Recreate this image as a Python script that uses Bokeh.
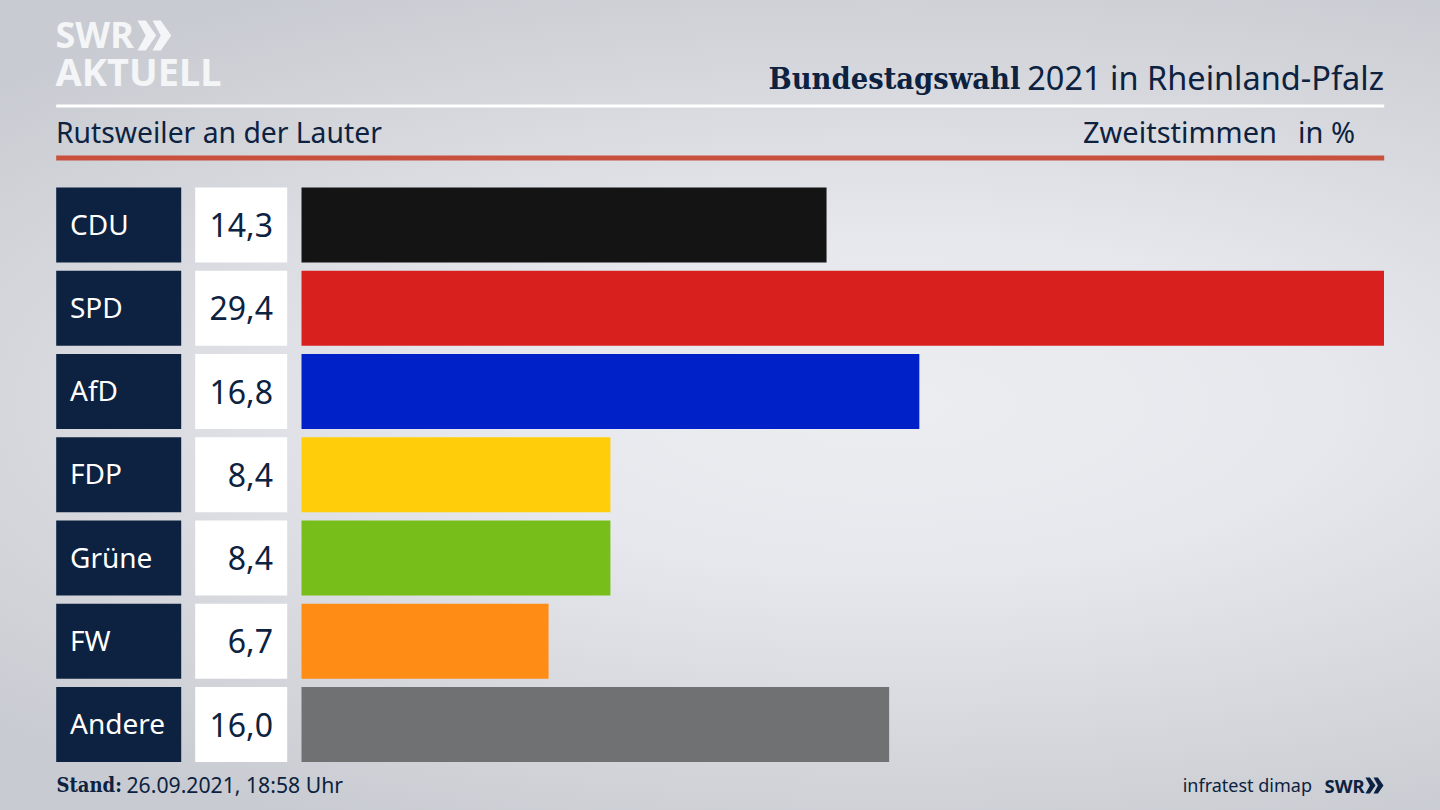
from bokeh.core.properties import value
from bokeh.embed import file_html
from bokeh.resources import INLINE
from bokeh.models import Range1d, ColumnDataSource
from bokeh.plotting import figure

# ---- data ----
parties = ["CDU", "SPD", "AfD", "FDP", "Grüne", "FW", "Andere"]
value_labels = ["14,3", "29,4", "16,8", "8,4", "8,4", "6,7", "16,0"]
bar_lengths = [14.26, 29.4, 16.78, 8.39, 8.39, 6.71, 15.96]
bar_colors = ["#141414", "#d8201e", "#0020c8", "#ffcd0a", "#78be1a", "#ff8c14", "#707173"]
title_bold = "Bundestagswahl"
title_rest = "2021 in Rheinland-Pfalz"
subtitle = "Rutsweiler an der Lauter"
measure = "Zweitstimmen"
unit = "in %"
stand_bold = "Stand:"
stand_rest = "26.09.2021, 18:58 Uhr"
source = "infratest dimap"

NAVY = "#0c2240"
SANS = value("Noto Sans")
SERIF = value("DejaVu Serif Condensed")
W, H = 1440, 810
PX0, PXU = 301.0, 1082.5 / 29.4
ROW0, ROWH = 224.5, 83.25

p = figure(width=W, height=H, output_backend="svg", toolbar_location=None,
           x_range=Range1d(0, W), y_range=Range1d(H, 0),
           min_border=0, background_fill_alpha=0, border_fill_alpha=0,
           outline_line_color=None)
p.axis.visible = False
p.grid.visible = False
p.extra_x_ranges["pct"] = Range1d(-PX0 / PXU, (W - PX0) / PXU)
p.extra_y_ranges["row"] = Range1d((H - ROW0) / ROWH, -ROW0 / ROWH)

rows = list(range(len(parties)))
src = ColumnDataSource(dict(row=rows, party=parties, label=value_labels,
                            value=bar_lengths, color=bar_colors))
h = 75 / ROWH
p.hbar(y="row", left=55.7, right=180.7, height=h, fill_color=NAVY, line_color=None, source=src, y_range_name="row")
p.hbar(y="row", left=194.7, right=286.7, height=h, fill_color="#ffffff", line_color=None, source=src, y_range_name="row")
p.hbar(y="row", left=0, right="value", height=h, fill_color="color", line_color=None, source=src,
       x_range_name="pct", y_range_name="row")
p.text(x=69.5, y="row", text="party", source=src, y_range_name="row", text_color="#ffffff",
       text_font=SANS, text_font_size="28px", text_baseline="middle", text_align="left", y_offset=-1.5)
p.text(x=272.5, y="row", text="label", source=src, y_range_name="row", text_color=NAVY,
       text_font=SANS, text_font_size="32px", text_baseline="middle", text_align="right")

p.quad(left=[55.7], right=[1383.7], top=[104], bottom=[107], fill_color="#ffffff", line_color=None)
p.quad(left=[55.7], right=[1383.7], top=[155], bottom=[160], fill_color="#c8503c", line_color=None)

def t(x, y, s, size, color=NAVY, font=SANS, style="normal", align="left"):
    p.text(x=[x], y=[y], text=[s], text_color=color, text_font=font, text_font_size=size,
           text_font_style=style, text_align=align, text_baseline="alphabetic")

t(1383.5, 77, title_rest, "32.5px", align="right")
t(1020, 77, title_bold, "30.5px", font=SERIF, style="bold", align="right")
t(55.5, 131, subtitle, "28.3px")
t(1276.5, 131, measure, "29px", align="right")
t(1354.5, 131, unit, "29px", align="right")
t(56, 784, stand_bold, "20px", font=SERIF, style="bold")
t(126, 784, stand_rest, "21.2px")
t(1311.5, 784.5, source, "18px", align="right")

LOGO = "#f4f5f7"
t(55, 34, "SWR", "36px", color=LOGO, style="bold")
t(55, 70, "AKTUELL", "38px", color=LOGO, style="bold")
def chevrons(x, y, w, hh, c):
    for dx in (0, w * 1.0):
        p.patch(x=[x + dx, x + dx + w * 0.55, x + dx + w * 1.25, x + dx + w * 0.55, x + dx, x + dx + w * 0.55],
                y=[y, y, y + hh / 2, y + hh, y + hh, y + hh / 2], fill_color=c, line_color=None)
chevrons(137, 20, 15, 30, LOGO)
t(1324, 784.5, "SWR", "18.5px", style="bold")
chevrons(1365, 777, 8, 16, NAVY)

html = file_html(p, INLINE)
css = ("<style>html,body{min-height:100%;background:radial-gradient(ellipse 85% 58% at 62% 50%,"
       "#ecedf1 0%,#e7e8ed 35%,#d6d8dd 70%,#c8cbd1 100%) no-repeat;background-size:1440px 810px;}</style>")
html = html.replace("</head>", css + "</head>", 1)
open("out.html", "w").write(html)
